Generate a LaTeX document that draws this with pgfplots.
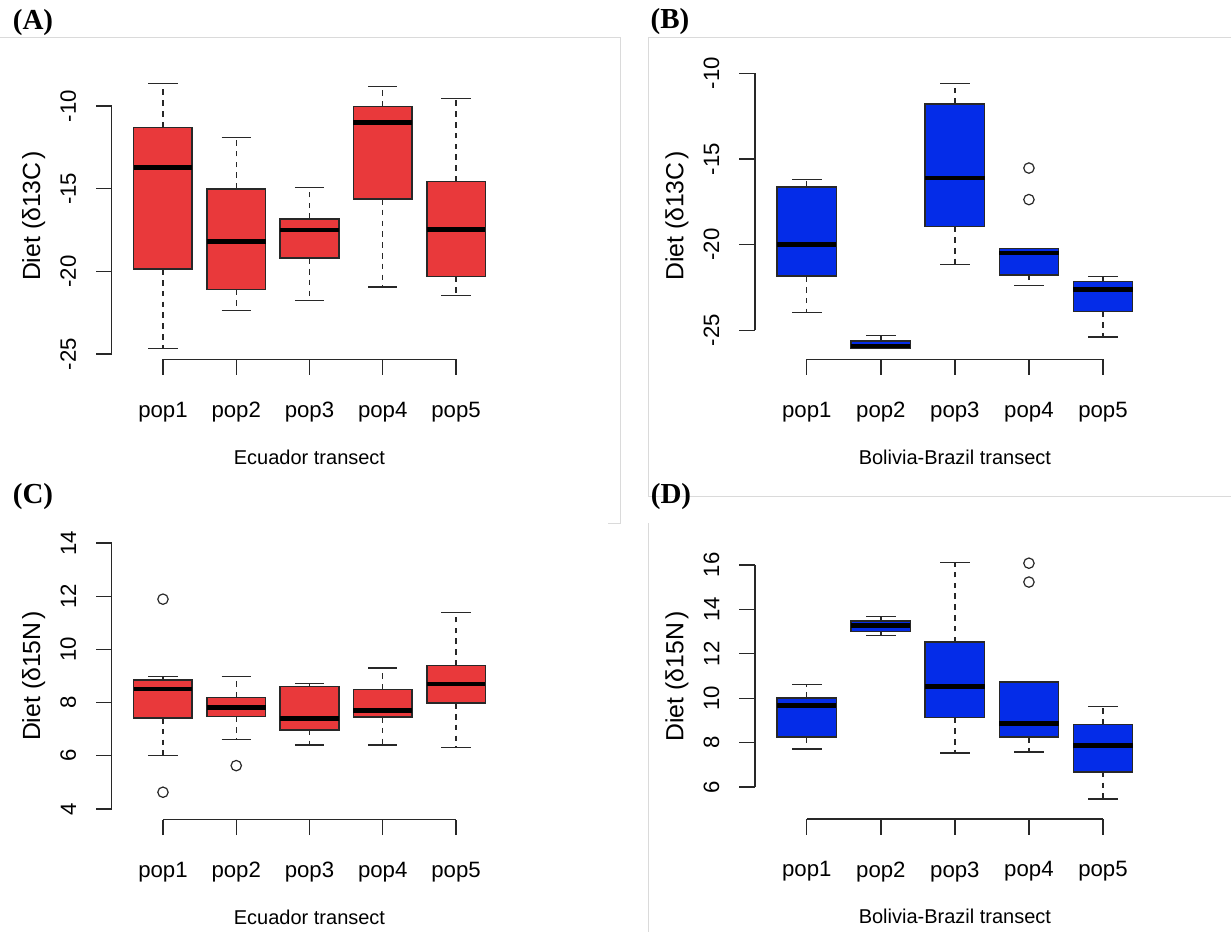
\documentclass[border=0pt]{standalone}
\usepackage{fontspec}
\setmainfont{Liberation Sans}
\newfontfamily\panelfont{Liberation Serif}
\usepackage{pgfplots}
\pgfplotsset{compat=1.18}
\usepgfplotslibrary{statistics}

\definecolor{boxred}{RGB}{233,57,59}
\definecolor{boxblue}{RGB}{4,44,232}
\definecolor{ink}{RGB}{40,40,40}
\definecolor{framegray}{RGB}{218,218,218}

\newcommand\sz{\fontsize{11.1}{13}\selectfont}
\newcommand\plab[1]{{\panelfont\bfseries\fontsize{14.5}{16}\selectfont #1}}
% y titles come out a little larger in the R figure
\newcommand\dlab[1]{{\fontsize{12.4}{14}\selectfont Diet (δ#1\hspace{1.5pt})}}

\tikzset{axln/.style={ink, line width=0.65pt}}

\pgfplotsset{
  rplot/.style={
    scale only axis,
    anchor=south west,
    xmin=0.3, xmax=5.7,
    xtick={1,2,3,4,5},
    xticklabels={pop1,pop2,pop3,pop4,pop5},
    tick pos=left,
    tick align=outside,
    major tick length=7.8pt,
    axis line style={draw=none},
    every tick/.style={ink, line width=0.65pt},
    tick label style={font=\sz},
    label style={font=\sz},
    /pgf/number format/assume math mode=true,
    xticklabel style={yshift=-10pt},
    yticklabel style={xshift=-6.5pt, rotate=90, anchor=south},
    every axis x label/.style={at={(axis description cs:0.5,0)}, yshift=-48.8pt, anchor=center},
    every axis y label/.style={at={(axis description cs:0,0.5)}, xshift=-39pt, rotate=90, anchor=center},
    clip=false,
  },
  boxplot/draw/lower whisker/.code={%
    \draw[ink, line width=0.65pt, dash pattern=on 2.8pt off 2.6pt]
      (boxplot cs:\pgfplotsboxplotvalue{lower quartile}) -- (boxplot cs:\pgfplotsboxplotvalue{lower whisker});
    \draw[ink, line width=0.65pt]
      (boxplot whisker cs:\pgfplotsboxplotvalue{lower whisker},0) -- (boxplot whisker cs:\pgfplotsboxplotvalue{lower whisker},1);
  },
  boxplot/draw/upper whisker/.code={%
    \draw[ink, line width=0.65pt, dash pattern=on 2.8pt off 2.6pt]
      (boxplot cs:\pgfplotsboxplotvalue{upper quartile}) -- (boxplot cs:\pgfplotsboxplotvalue{upper whisker});
    \draw[ink, line width=0.65pt]
      (boxplot whisker cs:\pgfplotsboxplotvalue{upper whisker},0) -- (boxplot whisker cs:\pgfplotsboxplotvalue{upper whisker},1);
  },
  rbox/.style={
    boxplot/draw direction=y,
    boxplot/every box/.style={fill=#1, draw=ink, line width=0.8pt},
    boxplot/every median/.style={black, line width=2.3pt},
    boxplot/box extend=0.8,
    boxplot/whisker extend=0.4,
    mark=o, mark size=2.6pt,
    mark options={ink, line width=0.6pt, solid},
  },
}

\begin{document}
\begin{tikzpicture}

% panel frames and letters (pixel units of the original figure)
\begin{scope}[x=0.5pt, y=-0.5pt]
  \draw[framegray, line width=0.5pt] (0,37) -- (620,37) -- (620,523) -- (608,523);
  \draw[framegray, line width=0.5pt] (1231,37) -- (648,37) -- (648,496) -- (1231,496);
  \draw[framegray, line width=0.5pt] (648,523) -- (648,932);
  \node at (33,23) {\plab{(A)}};
  \node at (670,22) {\plab{(B)}};
  \node at (33,497) {\plab{(C)}};
  \node at (671,497) {\plab{(D)}};
\end{scope}

% === (A) Ecuador, d13C ===
\begin{axis}[rplot, at={(55.85pt,-179.65pt)}, width=197.8pt, height=143.25pt,
  ymin=-25.32, ymax=-7.99, ytick={-25,-20,-15,-10},
  xlabel={Ecuador transect}, ylabel={\dlab{13C}}]
\addplot[rbox=boxred, boxplot prepared={draw position=1, lower whisker=-24.68, lower quartile=-19.87, median=-13.70, upper quartile=-11.29, upper whisker=-8.63}] coordinates {};
\addplot[rbox=boxred, boxplot prepared={draw position=2, lower whisker=-22.38, lower quartile=-21.09, median=-18.19, upper quartile=-15.01, upper whisker=-11.89}] coordinates {};
\addplot[rbox=boxred, boxplot prepared={draw position=3, lower whisker=-21.78, lower quartile=-19.20, median=-17.49, upper quartile=-16.83, upper whisker=-14.93}] coordinates {};
\addplot[rbox=boxred, boxplot prepared={draw position=4, lower whisker=-20.95, lower quartile=-15.62, median=-11.01, upper quartile=-10.04, upper whisker=-8.83}] coordinates {};
\addplot[rbox=boxred, boxplot prepared={draw position=5, lower whisker=-21.46, lower quartile=-20.31, median=-17.47, upper quartile=-14.57, upper whisker=-9.54}] coordinates {};
\draw[axln] (axis cs:0.3,-25) -- (axis cs:0.3,-10);
\draw[axln] (axis cs:1,-25.32) -- (axis cs:5,-25.32);
\end{axis}

% === (B) Bolivia-Brazil, d13C ===
\begin{axis}[rplot, at={(377.5pt,-179.65pt)}, width=199.9pt, height=143.35pt,
  ymin=-26.69, ymax=-9.96, ytick={-25,-20,-15,-10},
  xlabel={Bolivia-Brazil transect}, ylabel={\dlab{13C}}]
\addplot[rbox=boxblue, boxplot prepared={draw position=1, lower whisker=-23.97, lower quartile=-21.84, median=-19.99, upper quartile=-16.62, upper whisker=-16.21}] coordinates {};
\addplot[rbox=boxblue, boxplot prepared={draw position=2, lower whisker=-26.05, lower quartile=-26.05, median=-25.91, upper quartile=-25.62, upper whisker=-25.31}] coordinates {};
\addplot[rbox=boxblue, boxplot prepared={draw position=3, lower whisker=-21.16, lower quartile=-18.93, median=-16.11, upper quartile=-11.79, upper whisker=-10.58}] coordinates {};
\addplot[rbox=boxblue, boxplot prepared={draw position=4, lower whisker=-22.38, lower quartile=-21.76, median=-20.48, upper quartile=-20.23, upper whisker=-20.23}] table[row sep=\\, y index=0] {y\\ -15.53\\ -17.37\\};
\addplot[rbox=boxblue, boxplot prepared={draw position=5, lower whisker=-25.39, lower quartile=-23.89, median=-22.61, upper quartile=-22.15, upper whisker=-21.84}] coordinates {};
\draw[axln] (axis cs:0.3,-25) -- (axis cs:0.3,-10);
\draw[axln] (axis cs:1,-26.69) -- (axis cs:5,-26.69);
\end{axis}

% === (C) Ecuador, d15N ===
\begin{axis}[rplot, at={(55.85pt,-409.8pt)}, width=197.8pt, height=143.6pt,
  ymin=3.6, ymax=14.4, ytick={4,6,8,10,12,14},
  xlabel={Ecuador transect}, ylabel={\dlab{15N}}]
\addplot[rbox=boxred, boxplot prepared={draw position=1, lower whisker=6.00, lower quartile=7.42, median=8.51, upper quartile=8.86, upper whisker=8.99}] table[row sep=\\, y index=0] {y\\ 11.89\\ 4.63\\};
\addplot[rbox=boxred, boxplot prepared={draw position=2, lower whisker=6.61, lower quartile=7.48, median=7.81, upper quartile=8.19, upper whisker=8.99}] table[row sep=\\, y index=0] {y\\ 5.63\\};
\addplot[rbox=boxred, boxplot prepared={draw position=3, lower whisker=6.41, lower quartile=6.98, median=7.41, upper quartile=8.61, upper whisker=8.71}] coordinates {};
\addplot[rbox=boxred, boxplot prepared={draw position=4, lower whisker=6.41, lower quartile=7.46, median=7.71, upper quartile=8.49, upper whisker=9.30}] coordinates {};
\addplot[rbox=boxred, boxplot prepared={draw position=5, lower whisker=6.32, lower quartile=7.98, median=8.70, upper quartile=9.39, upper whisker=11.39}] coordinates {};
\draw[axln] (axis cs:0.3,4) -- (axis cs:0.3,14);
\draw[axln] (axis cs:1,3.6) -- (axis cs:5,3.6);
\end{axis}

% === (D) Bolivia-Brazil, d15N ===
\begin{axis}[rplot, at={(377.5pt,-409.5pt)}, width=199.9pt, height=133.35pt,
  ymin=4.56, ymax=16.57, ytick={6,8,10,12,14,16},
  xlabel={Bolivia-Brazil transect}, ylabel={\dlab{15N}},
  every axis y label/.append style={at={(axis description cs:0,0.534)}}]
\addplot[rbox=boxblue, boxplot prepared={draw position=1, lower whisker=7.71, lower quartile=8.25, median=9.66, upper quartile=10.01, upper whisker=10.61}] coordinates {};
\addplot[rbox=boxblue, boxplot prepared={draw position=2, lower whisker=12.82, lower quartile=13.01, median=13.27, upper quartile=13.48, upper whisker=13.69}] coordinates {};
\addplot[rbox=boxblue, boxplot prepared={draw position=3, lower whisker=7.53, lower quartile=9.14, median=10.53, upper quartile=12.52, upper whisker=16.11}] coordinates {};
\addplot[rbox=boxblue, boxplot prepared={draw position=4, lower whisker=7.58, lower quartile=8.25, median=8.85, upper quartile=10.74, upper whisker=10.74}] table[row sep=\\, y index=0] {y\\ 16.08\\ 15.23\\};
\addplot[rbox=boxblue, boxplot prepared={draw position=5, lower whisker=5.46, lower quartile=6.69, median=7.86, upper quartile=8.81, upper whisker=9.62}] coordinates {};
\draw[axln] (axis cs:0.3,6) -- (axis cs:0.3,16);
\draw[axln] (axis cs:1,4.56) -- (axis cs:5,4.56);
\end{axis}

\pgfresetboundingbox
\path[use as bounding box] (0,0) rectangle (615.5pt,-466pt);
\end{tikzpicture}
\end{document}
